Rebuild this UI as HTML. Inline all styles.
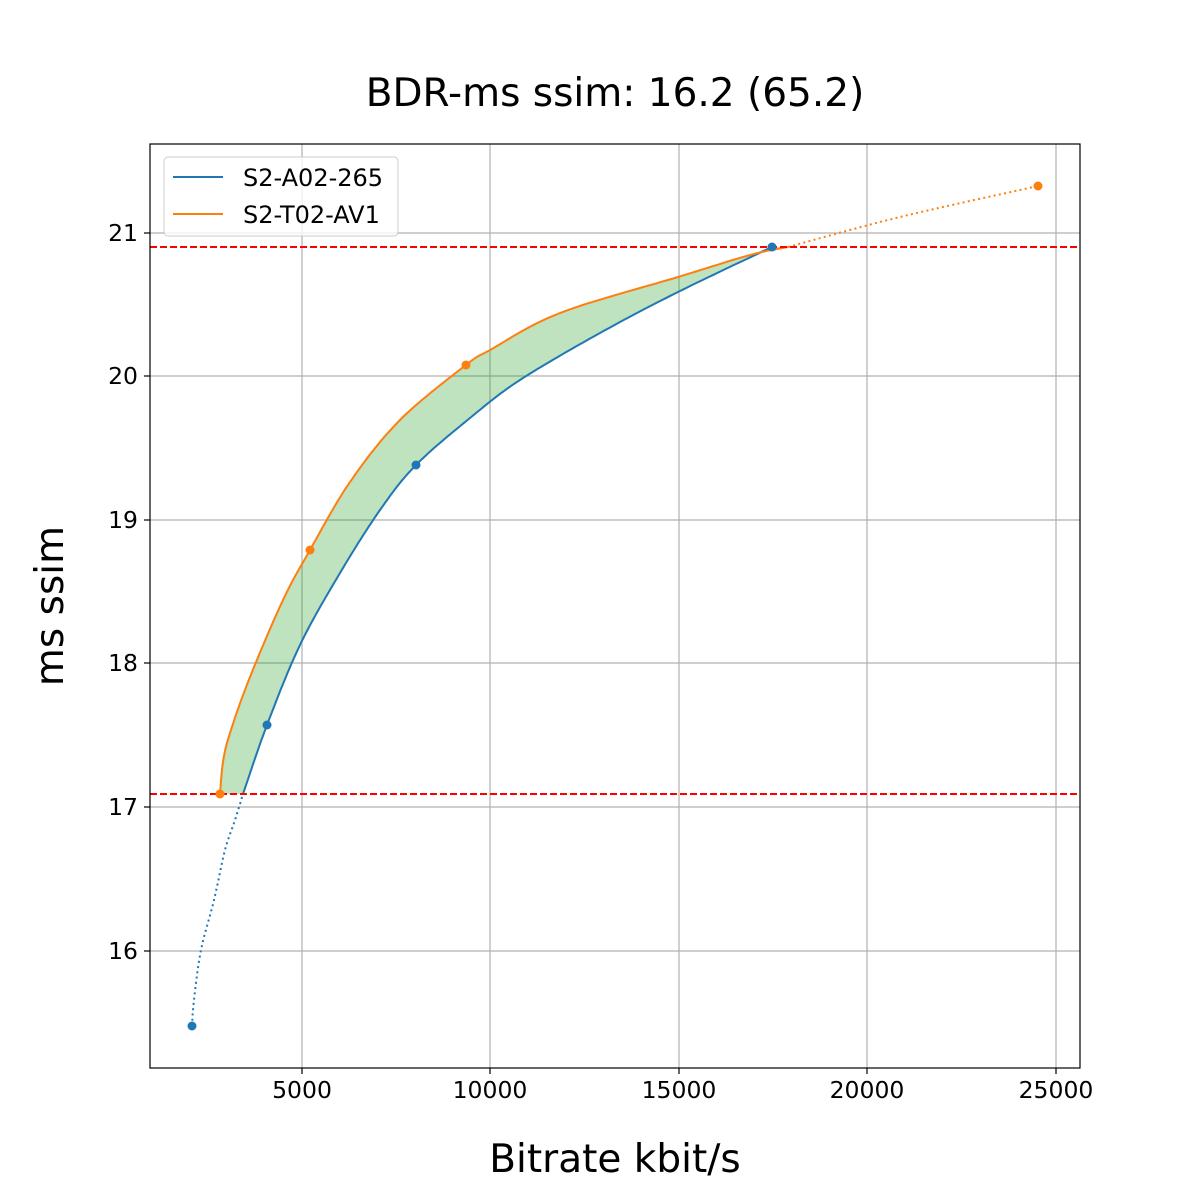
<!DOCTYPE html>
<html><head><meta charset="utf-8"><style>body{margin:0;background:#fff}svg{display:block}text{font-family:"DejaVu Sans","Liberation Sans",sans-serif}</style></head><body>
<svg id="s" width="1200" height="1200" viewBox="0 0 1200 1200" xmlns="http://www.w3.org/2000/svg">
<rect width="1200" height="1200" fill="#fff"/>
<g stroke="#b0b0b0" stroke-width="1.2">
<line x1="302" y1="144" x2="302" y2="1068"/><line x1="490" y1="144" x2="490" y2="1068"/><line x1="679" y1="144" x2="679" y2="1068"/><line x1="867" y1="144" x2="867" y2="1068"/><line x1="1056" y1="144" x2="1056" y2="1068"/>
<line x1="150" y1="233" x2="1080" y2="233"/><line x1="150" y1="376" x2="1080" y2="376"/><line x1="150" y1="520" x2="1080" y2="520"/><line x1="150" y1="663" x2="1080" y2="663"/><line x1="150" y1="807" x2="1080" y2="807"/><line x1="150" y1="951" x2="1080" y2="951"/>
</g>
<polygon id="fill" fill="#2ca02c" fill-opacity="0.3" points=""/>
<polyline id="bs" fill="none" stroke="#1f77b4" stroke-width="2" points=""/>
<polyline id="bd" fill="none" stroke="#1f77b4" stroke-width="2" stroke-dasharray="2,3.3" points=""/>
<polyline id="os" fill="none" stroke="#ff7f0e" stroke-width="2" points=""/>
<polyline id="od" fill="none" stroke="#ff7f0e" stroke-width="2" stroke-dasharray="2,3.3" points=""/>
<g stroke="#ff0000" stroke-width="2" stroke-dasharray="7,3"><line x1="150" y1="247" x2="1080" y2="247"/><line x1="150" y1="794" x2="1080" y2="794"/></g>
<g fill="#1f77b4"><circle cx="192" cy="1026" r="4.5"/><circle cx="267" cy="725" r="4.5"/><circle cx="416" cy="465" r="4.5"/><circle cx="772" cy="247" r="4.5"/></g>
<g fill="#ff7f0e"><circle cx="220" cy="794" r="4.5"/><circle cx="310" cy="550" r="4.5"/><circle cx="466" cy="365" r="4.5"/><circle cx="1038" cy="186" r="4.5"/></g>
<rect x="150" y="144" width="930" height="924" fill="none" stroke="#000" stroke-width="1.2"/>
<g stroke="#000" stroke-width="1.2"><line x1="302" y1="1068" x2="302" y2="1074"/><line x1="490" y1="1068" x2="490" y2="1074"/><line x1="679" y1="1068" x2="679" y2="1074"/><line x1="867" y1="1068" x2="867" y2="1074"/><line x1="1056" y1="1068" x2="1056" y2="1074"/>
<line x1="144" y1="233" x2="150" y2="233"/><line x1="144" y1="376" x2="150" y2="376"/><line x1="144" y1="520" x2="150" y2="520"/><line x1="144" y1="663" x2="150" y2="663"/><line x1="144" y1="807" x2="150" y2="807"/><line x1="144" y1="951" x2="150" y2="951"/></g>
<g font-size="23.5" text-anchor="middle"><text x="302" y="1098">5000</text><text x="490" y="1098">10000</text><text x="679" y="1098">15000</text><text x="867" y="1098">20000</text><text x="1056" y="1098">25000</text></g>
<g font-size="23.5" text-anchor="end"><text x="138" y="241">21</text><text x="138" y="384">20</text><text x="138" y="528">19</text><text x="138" y="671">18</text><text x="138" y="815">17</text><text x="138" y="959">16</text></g>
<text x="615" y="106" font-size="39" text-anchor="middle">BDR-ms ssim: 16.2 (65.2)</text>
<text x="615" y="1172" font-size="39" text-anchor="middle">Bitrate kbit/s</text>
<text transform="translate(63,606) rotate(-90)" font-size="39" text-anchor="middle">ms ssim</text>
<rect x="164" y="157" width="234" height="79" rx="4" fill="#fff" fill-opacity="0.8" stroke="#ccc"/>
<line x1="173" y1="177" x2="223" y2="177" stroke="#1f77b4" stroke-width="2"/>
<line x1="173" y1="214" x2="223" y2="214" stroke="#ff7f0e" stroke-width="2"/>
<text x="243" y="186" font-size="24">S2-A02-265</text>
<text x="243" y="223" font-size="24">S2-T02-AV1</text>
</svg>
<script>
function cr(P){var r=[];for(var i=0;i<P.length-1;i++){var p0=P[Math.max(i-1,0)],p1=P[i],p2=P[i+1],p3=P[Math.min(i+2,P.length-1)];
for(var k=0;k<20;k++){var t=k/20,t2=t*t,t3=t2*t;var f=function(a,b,c,d){return 0.5*(2*b+(-a+c)*t+(2*a-5*b+4*c-d)*t2+(-a+3*b-3*c+d)*t3);};
r.push([f(p0[0],p1[0],p2[0],p3[0]),f(p0[1],p1[1],p2[1],p3[1])]);}}r.push(P[P.length-1]);return r;}
function str(a){return a.map(function(p){return p[0].toFixed(1)+","+p[1].toFixed(1)}).join(" ");}
var bs=cr([[243,794],[267,725],[300,645],[340,573],[380,510],[416,465],[470,418],[520,380],[600,333],[678,292],[772,247]]);
var os=cr([[220,794],[223,762],[230,733],[250,677],[283,600],[310,550],[350,482],[400,420],[466,365],[490,350],[560,313],[678,277],[750,255],[788,247]]);
var bd=cr([[192,1026],[194,1000],[201,950],[214,900],[225,850],[235,820],[243,794]]);
var od=cr([[788,247],[900,217],[1038,186]]);
document.getElementById('bs').setAttribute('points',str(bs));
document.getElementById('os').setAttribute('points',str(os));
document.getElementById('bd').setAttribute('points',str(bd));
document.getElementById('od').setAttribute('points',str(od));
document.getElementById('fill').setAttribute('points',str(os.concat(bs.slice().reverse())));
</script>
</body></html>
